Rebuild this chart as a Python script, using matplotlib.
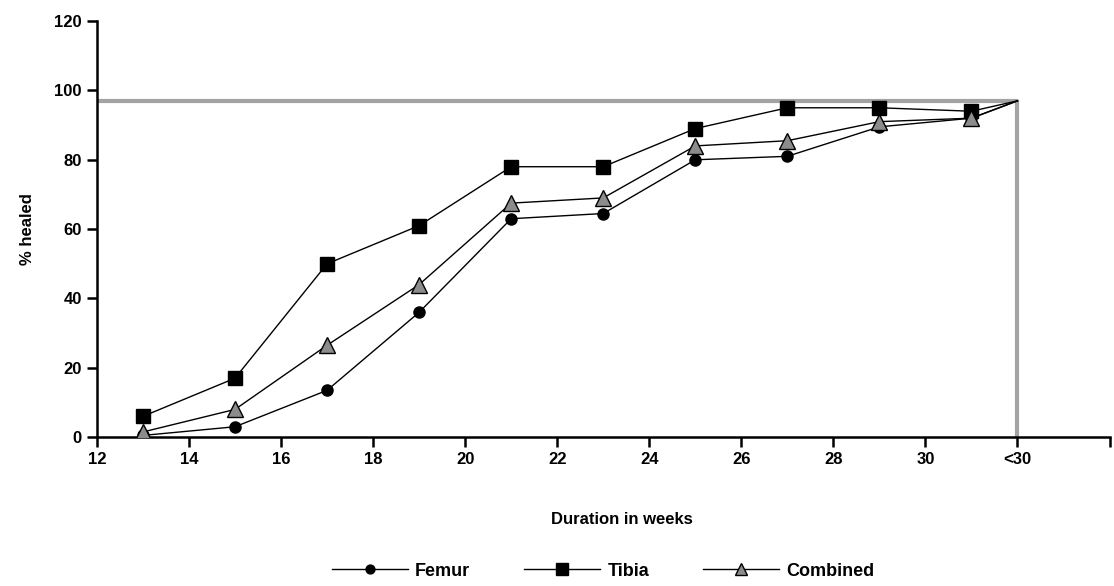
import matplotlib
matplotlib.use("Agg")
from matplotlib import pyplot as plt

plt.rcParams['font.family'] = ['Liberation Sans', 'DejaVu Sans']
plt.rcParams['font.weight'] = 'bold'

# weeks (32 stands for the "<30" end point)
weeks = [13, 15, 17, 19, 21, 23, 25, 27, 29, 31, 32]
femur = [0.5, 3, 13.5, 36, 63, 64.5, 80, 81, 89.5, 92, 97]
tibia = [6, 17, 50, 61, 78, 78, 89, 95, 95, 94, 97]
combined = [1.5, 8, 26.5, 44, 67.5, 69, 84, 85.5, 91, 92, 97]

# grey reference frame
ref_x = [12, 32, 32]
ref_y = [97, 97, 0]

xticks = [12, 14, 16, 18, 20, 22, 24, 26, 28, 30, 32, 34]
xlabels = ['12', '14', '16', '18', '20', '22', '24', '26', '28', '30', '<30', '']
yticks = [0, 20, 40, 60, 80, 100, 120]

fig = plt.figure(figsize=(11.14, 5.86), dpi=100)
ax = fig.add_axes([0.087, 0.254, 0.909, 0.71])

ax.plot(ref_x, ref_y, color='#a3a3a3', lw=3, solid_capstyle='butt', zorder=1)

n = len(weeks) - 1
ax.plot(weeks, femur, color='black', lw=1, marker='o', ms=8,
        markevery=list(range(n)), label='Femur', zorder=3)
ax.plot(weeks, tibia, color='black', lw=1, marker='s', ms=10,
        markevery=list(range(n)), label='Tibia', zorder=3)
ax.plot(weeks, combined, color='black', lw=1, marker='^', ms=11,
        markerfacecolor='#8c8c8c', markeredgecolor='black',
        markevery=list(range(n)), label='Combined', zorder=4)

ax.set_xlim(12, 34)
ax.set_ylim(0, 120)
ax.set_xticks(xticks)
ax.set_xticklabels(xlabels)
ax.set_yticks(yticks)

for s in ['top', 'right']:
    ax.spines[s].set_visible(False)
for s in ['left', 'bottom']:
    ax.spines[s].set_linewidth(1.8)
ax.tick_params(axis='both', length=7, width=1.8, labelsize=12, pad=4)

ax.set_ylabel('% healed', fontsize=12, fontweight='bold', labelpad=14)
ax.set_xlabel('Duration in weeks', fontsize=12, fontweight='bold')
ax.xaxis.set_label_coords(0.518, -0.18)

leg = ax.legend(loc='center', bbox_to_anchor=(0.5, -0.322), ncol=3,
                frameon=False, fontsize=13, handlelength=4.2,
                columnspacing=3.0, handletextpad=0.4, markerscale=0.8)

fig.savefig('out.png', dpi=100)
